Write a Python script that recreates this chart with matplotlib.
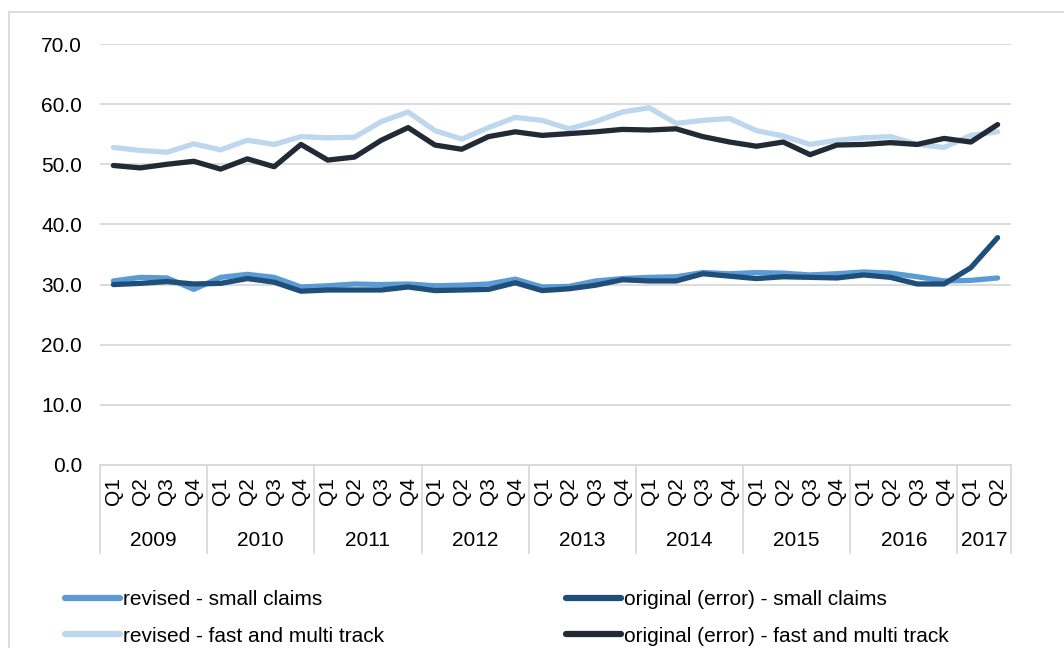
import numpy as np
import matplotlib.pyplot as plt
from matplotlib.lines import Line2D
from matplotlib.patches import Rectangle
import matplotlib.transforms as mtransforms

plt.rcParams['font.family'] = ['Liberation Sans', 'DejaVu Sans']

years = ["2009", "2010", "2011", "2012", "2013", "2014", "2015", "2016", "2017"]
quarters_per_year = [4, 4, 4, 4, 4, 4, 4, 4, 2]

rev_small = [30.6, 31.2, 31.1, 29.2, 31.2, 31.7, 31.2, 29.6, 29.8, 30.1, 30.0, 30.1,
             29.8, 29.9, 30.1, 30.9, 29.6, 29.7, 30.6, 31.0, 31.2, 31.3, 32.0, 31.8,
             32.0, 31.9, 31.6, 31.8, 32.1, 31.9, 31.3, 30.6, 30.7, 31.1]
orig_small = [30.0, 30.2, 30.5, 30.1, 30.2, 31.0, 30.4, 28.9, 29.1, 29.1, 29.1, 29.6,
              29.0, 29.1, 29.2, 30.3, 29.0, 29.3, 29.9, 30.8, 30.6, 30.6, 31.8, 31.4,
              31.0, 31.3, 31.2, 31.1, 31.6, 31.2, 30.1, 30.1, 32.8, 37.8]
rev_fast = [52.8, 52.3, 52.0, 53.4, 52.4, 54.0, 53.3, 54.6, 54.4, 54.5, 57.1, 58.7,
            55.6, 54.2, 56.1, 57.8, 57.3, 55.9, 57.1, 58.7, 59.4, 56.8, 57.3, 57.6,
            55.6, 54.7, 53.3, 54.0, 54.4, 54.6, 53.3, 52.8, 54.8, 55.4]
orig_fast = [49.8, 49.4, 50.0, 50.5, 49.2, 50.9, 49.6, 53.3, 50.7, 51.2, 54.0, 56.1,
             53.2, 52.5, 54.6, 55.4, 54.8, 55.1, 55.4, 55.8, 55.7, 55.9, 54.6, 53.7,
             53.0, 53.7, 51.6, 53.2, 53.3, 53.6, 53.3, 54.3, 53.7, 56.6]

grid_col = "#D9D9D9"
fs = 15

fig = plt.figure(figsize=(10.64, 6.48), dpi=100)
ax = fig.add_axes([100 / 1064, 1 - 465 / 648, 911 / 1064, 421 / 648])

# outer chart frame
fig.patches.append(Rectangle((9 / 1064, -0.1), 1.2, 1 - 12 / 648 + 0.1,
                             transform=fig.transFigure, fill=False,
                             edgecolor=grid_col, lw=1.3))

x = np.arange(len(rev_small))
ax.plot(x, rev_small, color="#5B9BD5", lw=3.8, solid_capstyle="round", zorder=3)
ax.plot(x, orig_small, color="#1F4E79", lw=3.8, solid_capstyle="round", zorder=4)
ax.plot(x, rev_fast, color="#BDD7EE", lw=3.8, solid_capstyle="round", zorder=3)
ax.plot(x, orig_fast, color="#222A35", lw=3.8, solid_capstyle="round", zorder=4)

ax.set_xlim(-0.5, len(x) - 0.5)
ax.set_ylim(0, 70)
ax.set_yticks(np.arange(0, 71, 10))
ax.set_yticklabels([f"{v:.1f}" for v in range(0, 71, 10)], fontsize=fs)
ax.tick_params(axis="y", length=0, pad=13)
ax.set_xticks([])
ax.grid(axis="y", color=grid_col, lw=1.3)
ax.set_axisbelow(True)
for s in ["top", "right", "left"]:
    ax.spines[s].set_visible(False)
ax.spines["bottom"].set_color(grid_col)
ax.spines["bottom"].set_linewidth(1.3)

# two-level category axis: quarters and years
trans = mtransforms.blended_transform_factory(ax.transData, fig.transFigure)
y_q = 1 - 477 / 648
y_year = 1 - 540 / 648
y_sep = 1 - 553 / 648
y_axis = 1 - 465 / 648
pos = 0
bounds = [-0.5]
for yr, n in zip(years, quarters_per_year):
    for q in range(n):
        ax.text(pos + q, y_q, f"Q{q + 1}", transform=trans, rotation=90,
                ha="center", va="top", fontsize=fs)
    ax.text(pos + (n - 1) / 2, y_year, yr, transform=trans,
            ha="center", va="center", fontsize=fs)
    pos += n
    bounds.append(pos - 0.5)
for b in bounds:
    fig.add_artist(Line2D([b, b], [y_sep, y_axis], transform=trans,
                          color=grid_col, lw=1.3))

handles = [
    Line2D([], [], color="#5B9BD5", lw=4.5, solid_capstyle="round"),
    Line2D([], [], color="#BDD7EE", lw=4.5, solid_capstyle="round"),
    Line2D([], [], color="#1F4E79", lw=4.5, solid_capstyle="round"),
    Line2D([], [], color="#222A35", lw=4.5, solid_capstyle="round"),
]
labels = ["revised - small claims", "revised - fast and multi track",
          "original (error) - small claims", "original (error) - fast and multi track"]
fig.legend(handles, labels, ncol=2, loc="upper left",
           bbox_to_anchor=(65 / 1064, 1 - 590 / 648), frameon=False,
           fontsize=fs, handlelength=2.64, handletextpad=0.15,
           columnspacing=8.7, labelspacing=0.84, borderpad=0, borderaxespad=0)

fig.savefig("out.png", dpi=100)
